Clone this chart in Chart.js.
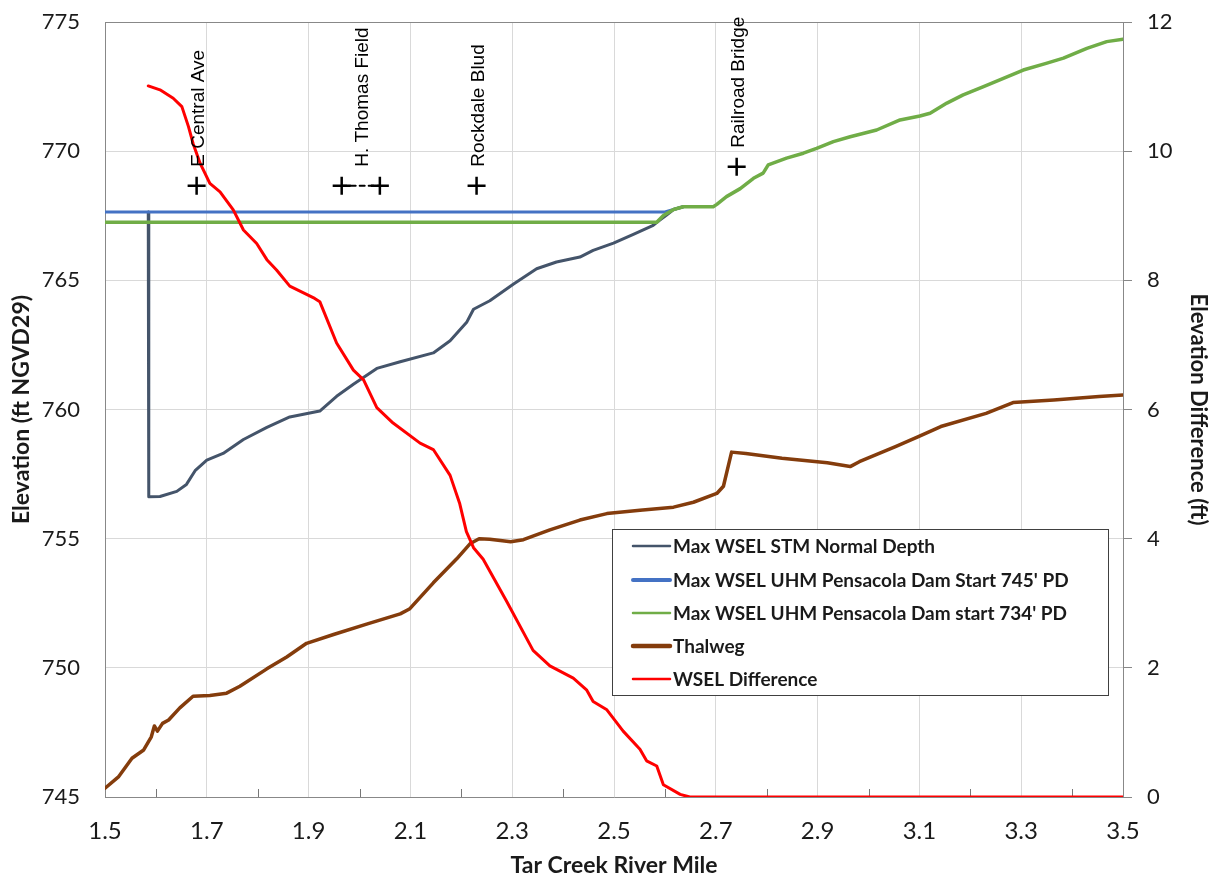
<!DOCTYPE html>
<html><head><meta charset="utf-8">
<script src="https://cdn.jsdelivr.net/npm/chart.js@4"></script>
<style>html,body{margin:0;padding:0;background:#fff}#wrap{width:1212px;height:879px;position:relative}</style>
</head><body><div id="wrap"><canvas id="c"></canvas></div>
<script>
// ---------- data ----------
const xMajorTicks = [1.5, 1.7, 1.9, 2.1, 2.3, 2.5, 2.7, 2.9, 3.1, 3.3, 3.5];
const xMinorTicks = [1.6, 1.8, 2.0, 2.2, 2.4, 2.6, 2.8, 3.0, 3.2, 3.4];
const leftTicks = [745, 750, 755, 760, 765, 770, 775];
const rightTicks = [0, 2, 4, 6, 8, 10, 12];

const stmMile = [1.585, 1.586, 1.608, 1.641, 1.660, 1.677, 1.700, 1.732, 1.772, 1.818, 1.863, 1.922, 1.955, 1.988, 2.034, 2.080, 2.145, 2.178, 2.211, 2.224, 2.256, 2.302, 2.348, 2.387, 2.433, 2.459, 2.499, 2.538, 2.577, 2.590, 2.604, 2.617, 2.636];
const stmElev = [767.65, 756.62, 756.63, 756.83, 757.10, 757.63, 758.04, 758.30, 758.84, 759.31, 759.71, 759.94, 760.51, 760.98, 761.59, 761.85, 762.19, 762.66, 763.39, 763.88, 764.21, 764.85, 765.45, 765.71, 765.90, 766.16, 766.44, 766.78, 767.13, 767.33, 767.54, 767.74, 767.85];

const pd745Mile = [1.5, 2.600, 2.617, 2.636];
const pd745Elev = [767.65, 767.65, 767.74, 767.85];

const pd734Mile = [1.5, 2.584, 2.597, 2.617, 2.636, 2.669, 2.695, 2.702, 2.721, 2.748, 2.774, 2.793, 2.803, 2.839, 2.872, 2.898, 2.931, 2.964, 3.016, 3.062, 3.101, 3.121, 3.154, 3.186, 3.226, 3.265, 3.304, 3.349, 3.383, 3.429, 3.468, 3.500];
const pd734Elev = [767.25, 767.25, 767.51, 767.74, 767.85, 767.85, 767.85, 767.94, 768.24, 768.55, 768.95, 769.15, 769.47, 769.73, 769.92, 770.11, 770.37, 770.56, 770.82, 771.21, 771.36, 771.47, 771.86, 772.18, 772.50, 772.82, 773.14, 773.40, 773.60, 773.98, 774.24, 774.33];

const thalMile = [1.500, 1.527, 1.553, 1.576, 1.591, 1.597, 1.603, 1.613, 1.625, 1.647, 1.673, 1.706, 1.739, 1.765, 1.818, 1.857, 1.896, 1.949, 2.014, 2.080, 2.099, 2.145, 2.191, 2.217, 2.235, 2.256, 2.297, 2.322, 2.374, 2.433, 2.486, 2.551, 2.617, 2.656, 2.702, 2.715, 2.731, 2.759, 2.830, 2.919, 2.964, 2.982, 3.053, 3.098, 3.142, 3.231, 3.284, 3.364, 3.453, 3.500];
const thalElev = [745.34, 745.79, 746.50, 746.82, 747.33, 747.75, 747.55, 747.85, 747.98, 748.45, 748.90, 748.93, 749.02, 749.29, 749.96, 750.42, 750.95, 751.29, 751.69, 752.09, 752.29, 753.29, 754.22, 754.80, 755.00, 754.98, 754.88, 754.96, 755.34, 755.72, 755.97, 756.10, 756.22, 756.41, 756.75, 757.03, 758.35, 758.30, 758.11, 757.94, 757.79, 757.98, 758.56, 758.95, 759.34, 759.85, 760.27, 760.37, 760.50, 760.56];

const diffMile = [1.585, 1.608, 1.634, 1.651, 1.664, 1.673, 1.687, 1.706, 1.726, 1.752, 1.772, 1.798, 1.818, 1.837, 1.863, 1.912, 1.922, 1.955, 1.988, 2.008, 2.034, 2.066, 2.119, 2.145, 2.178, 2.197, 2.210, 2.224, 2.243, 2.289, 2.341, 2.374, 2.420, 2.446, 2.459, 2.486, 2.518, 2.551, 2.564, 2.584, 2.597, 2.630, 2.649, 3.500];
const diffFt = [11.01, 10.95, 10.82, 10.69, 10.38, 10.12, 9.81, 9.50, 9.37, 9.09, 8.78, 8.57, 8.32, 8.16, 7.91, 7.72, 7.67, 7.03, 6.61, 6.46, 6.03, 5.79, 5.48, 5.38, 4.98, 4.54, 4.11, 3.86, 3.68, 3.03, 2.27, 2.03, 1.84, 1.66, 1.48, 1.35, 1.02, 0.74, 0.56, 0.48, 0.19, 0.04, 0, 0];

const crossMile = [1.680, 2.230, 2.741];
const crossElev = [768.66, 768.66, 769.40];
const thomasMile = [1.965, 2.040];
const thomasElev = [768.66, 768.66];

const labelNames = ['E Central Ave', 'H. Thomas Field', 'Rockdale Blud', 'Railroad Bridge'];
const labelMile = [1.680, 2.003, 2.230, 2.741];
const labelElev = [768.66, 768.66, 768.66, 769.40];

const seriesNames = ['Max WSEL STM Normal Depth', "Max WSEL UHM Pensacola Dam Start 745' PD", "Max WSEL UHM Pensacola Dam start 734' PD", 'Thalweg', 'WSEL Difference'];
const seriesColors = ['#44546A', '#4472C4', '#70AD47', '#843C0C', '#FF0000'];

// ---------- helpers ----------
const toXY = (xs, ys) => xs.map((x, i) => ({x: x, y: ys[i]}));
const isMajor = v => xMajorTicks.some(m => Math.abs(m - v) < 1e-6);
const FONT = "Lato";

const framePlugin = {
  id: 'frame',
  beforeDatasetsDraw(chart) {
    const {ctx, chartArea: a, scales} = chart;
    ctx.save();
    ctx.strokeStyle = '#888';
    ctx.lineWidth = 1;
    ctx.beginPath();
    ctx.moveTo(a.left, Math.round(a.top) + 0.5);
    ctx.lineTo(a.right, Math.round(a.top) + 0.5);
    ctx.stroke();
    ctx.strokeStyle = '#777';
    xMinorTicks.forEach(v => {
      const px = Math.round(scales.x.getPixelForValue(v)) + 0.5;
      ctx.beginPath();
      ctx.moveTo(px, a.bottom);
      ctx.lineTo(px, a.bottom - 8);
      ctx.stroke();
    });
    ctx.restore();
  }
};

const labelPlugin = {
  id: 'siteLabels',
  afterDatasetsDraw(chart) {
    const {ctx, scales} = chart;
    ctx.save();
    ctx.font = "19px 'Liberation Sans', Arial, sans-serif";
    ctx.fillStyle = '#000';
    ctx.textAlign = 'left';
    ctx.textBaseline = 'middle';
    labelNames.forEach((name, i) => {
      const px = scales.x.getPixelForValue(labelMile[i]);
      const py = scales.y.getPixelForValue(labelElev[i]);
      ctx.save();
      ctx.translate(px + 2, py - 19);
      ctx.rotate(-Math.PI / 2);
      ctx.fillText(name, 0, 0);
      ctx.restore();
    });
    ctx.restore();
  }
};

const legendPlugin = {
  id: 'boxLegend',
  afterDraw(chart) {
    const {ctx} = chart;
    const bx = 612.5, by = 529.5, bw = 496, bh = 166;
    const widths = [2.5, 4, 2.5, 4.5, 2.5];
    const rows = [546, 580, 613, 646, 679];
    ctx.save();
    ctx.fillStyle = '#fff';
    ctx.fillRect(bx, by, bw, bh);
    ctx.strokeStyle = '#404040';
    ctx.lineWidth = 1;
    ctx.strokeRect(bx, by, bw, bh);
    ctx.font = "bold 19px " + FONT;
    ctx.textBaseline = 'middle';
    ctx.textAlign = 'left';
    seriesNames.forEach((n, i) => {
      ctx.strokeStyle = seriesColors[i];
      ctx.lineWidth = widths[i];
      ctx.lineCap = 'round';
      ctx.beginPath();
      ctx.moveTo(633, rows[i]);
      ctx.lineTo(670, rows[i]);
      ctx.stroke();
      ctx.fillStyle = '#1a1a1a';
      ctx.fillText(n, 673, rows[i] + 1);
    });
    ctx.restore();
  }
};

function build() {
  const yTickFont = {family: FONT, size: 22};
  const xTickFont = {family: FONT, size: 24};
  const titleFont = {family: FONT, size: 23, weight: 'bold'};
  const rTitleFont = {family: FONT, size: 22, weight: 'bold'};

  new Chart(document.getElementById('c'), {
    type: 'line',
    data: {
      datasets: [
        {label: seriesNames[0], data: toXY(stmMile, stmElev), borderColor: seriesColors[0], borderWidth: 3, yAxisID: 'y', order: 3},
        {label: seriesNames[1], data: toXY(pd745Mile, pd745Elev), borderColor: seriesColors[1], borderWidth: 3, yAxisID: 'y', order: 2},
        {label: seriesNames[2], data: toXY(pd734Mile, pd734Elev), borderColor: seriesColors[2], borderWidth: 3.5, yAxisID: 'y', order: 1},
        {label: seriesNames[3], data: toXY(thalMile, thalElev), borderColor: seriesColors[3], borderWidth: 3.5, yAxisID: 'y', order: 4},
        {label: seriesNames[4], data: toXY(diffMile, diffFt), borderColor: seriesColors[4], borderWidth: 3, yAxisID: 'y1', order: 0},
        {label: 'crossings', data: toXY(crossMile, crossElev), showLine: false, pointStyle: 'cross', pointRadius: 9, pointBorderWidth: 2.5, borderColor: '#000', pointBorderColor: '#000', yAxisID: 'y', order: -1},
        {label: 'H. Thomas Field', data: toXY(thomasMile, thomasElev), showLine: true, borderDash: [5, 4], borderWidth: 2, borderColor: '#000', pointStyle: 'cross', pointRadius: 9, pointBorderWidth: 2.5, pointBorderColor: '#000', yAxisID: 'y', order: -1}
      ]
    },
    options: {
      responsive: true,
      maintainAspectRatio: false,
      animation: false,
      events: [],
      layout: {padding: {top: 22, left: 0, right: 0, bottom: 0}},
      elements: {point: {radius: 0}, line: {tension: 0, borderCapStyle: 'round', borderJoinStyle: 'round'}},
      plugins: {legend: {display: false}, tooltip: {enabled: false}},
      scales: {
        x: {
          type: 'linear', min: 1.5, max: 3.5,
          afterBuildTicks: s => { s.ticks = xMajorTicks.concat(xMinorTicks).sort((a, b) => a - b).map(v => ({value: v})); },
          afterFit: s => { s.height = 82; s.paddingLeft = 0; s.paddingRight = 0; },
          ticks: {autoSkip: false, maxRotation: 0, padding: 20, font: xTickFont, color: '#1a1a1a',
            callback: v => isMajor(v) ? v.toFixed(1) : ''},
          grid: {drawTicks: false, color: c => (c.tick && isMajor(c.tick.value)) ? '#d9d9d9' : 'rgba(0,0,0,0)'},
          border: {color: '#888', width: 1},
          title: {display: true, text: 'Tar Creek River Mile', font: titleFont, color: '#1a1a1a', padding: {top: 0, bottom: 0}}
        },
        y: {
          type: 'linear', position: 'left', min: 745, max: 775,
          afterBuildTicks: s => { s.ticks = leftTicks.map(v => ({value: v})); },
          afterFit: s => { s.width = 105; s.paddingTop = 0; s.paddingBottom = 0; },
          ticks: {padding: 25, font: yTickFont, color: '#1a1a1a'},
          grid: {drawTicks: false, color: '#d9d9d9'},
          border: {color: '#888', width: 1},
          title: {display: true, text: 'Elevation (ft NGVD29)', font: titleFont, color: '#1a1a1a', padding: {top: 8, bottom: 0}}
        },
        y1: {
          type: 'linear', position: 'right', min: 0, max: 12,
          afterBuildTicks: s => { s.ticks = rightTicks.map(v => ({value: v})); },
          afterFit: s => { s.width = 89; s.paddingTop = 0; s.paddingBottom = 0; },
          ticks: {padding: 15, font: yTickFont, color: '#1a1a1a'},
          grid: {drawOnChartArea: false, drawTicks: true, tickLength: 9, tickColor: '#888', color: '#888'},
          border: {color: '#888', width: 1},
          title: {display: true, text: 'Elevation Difference (ft)', font: rTitleFont, color: '#1a1a1a', padding: {top: 1, bottom: 0}}
        }
      }
    },
    plugins: [framePlugin, labelPlugin, legendPlugin]
  });
}

const fontLoads = ["22px Lato", "bold 23px Lato", "bold 19px Lato", "19px 'Liberation Sans'"].map(f => document.fonts.load(f).catch(() => null));
Promise.all(fontLoads).then(build, build);
</script>
</body></html>
